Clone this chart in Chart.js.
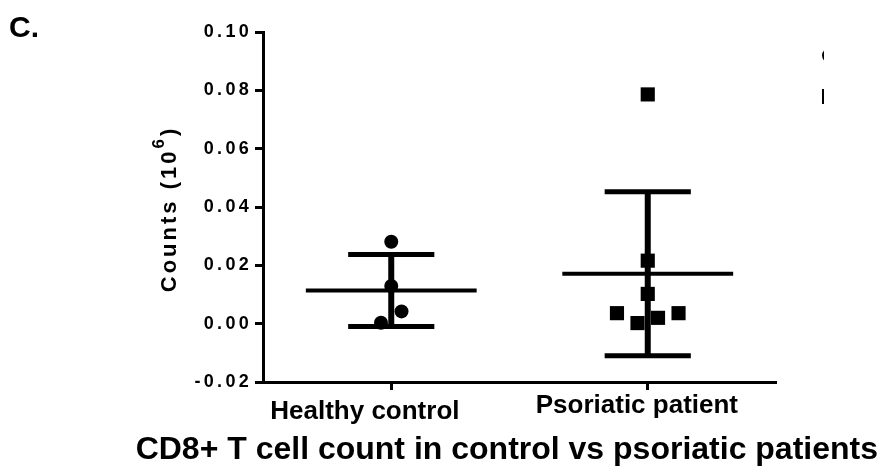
<!DOCTYPE html>
<html>
<head>
<meta charset="utf-8">
<title>CD8+ T cell count</title>
<script src="https://cdn.jsdelivr.net/npm/chart.js@4/dist/chart.umd.min.js"></script>
<style>
  html, body { margin: 0; padding: 0; background: #fff; overflow: hidden; }
  canvas { display: block; }
</style>
</head>
<body>
<canvas id="chart" width="884" height="475"></canvas>
<script>
// Groups on the x axis
const categories = ['Healthy control', 'Psoriatic patient'];

// CD8+ T cell counts (10^6) per subject
const healthyCounts   = [0.0281, 0.0129, 0.0042, 0.0003];
const psoriaticCounts = [0.0786, 0.0216, 0.0102, 0.0036, 0.0036, 0.0002, 0.0020];

// Horizontal spread of overlapping subjects, in category units
const healthySpread   = [0, 0, 0.04, -0.04];
const psoriaticSpread = [0, 0, 0, -0.12, 0.12, -0.04, 0.04];

// Y axis tick values
const yTickValues = [-0.02, 0.00, 0.02, 0.04, 0.06, 0.08, 0.10];

const FONT = "'Liberation Sans', Arial, Helvetica, sans-serif";
const INK = '#000000';

function meanSd(values) {
  const n = values.length;
  const mean = values.reduce((a, b) => a + b, 0) / n;
  const sd = Math.sqrt(values.reduce((a, v) => a + (v - mean) * (v - mean), 0) / (n - 1));
  return { mean, sd };
}

const groups = [
  { counts: healthyCounts,   spread: healthySpread,   style: 'circle', radius: 7 },
  { counts: psoriaticCounts, spread: psoriaticSpread, style: 'rect',   radius: 10 }
];

const MEAN_HALF = 0.333;   // half length of the mean bar
const CAP_HALF = 0.168;    // half length of the SD caps

function segment(points, width) {
  return {
    data: points,
    showLine: true,
    borderColor: INK,
    borderWidth: width,
    pointRadius: 0,
    pointHoverRadius: 0,
    borderCapStyle: 'butt'
  };
}

// Mean bar and mean +/- SD whiskers for each group, then the subjects
const datasets = [];
groups.forEach((g, i) => {
  const c = i + 1;
  const { mean, sd } = meanSd(g.counts);
  datasets.push(segment([{ x: c - MEAN_HALF, y: mean }, { x: c + MEAN_HALF, y: mean }], 4));
  datasets.push(segment([{ x: c, y: mean - sd }, { x: c, y: mean + sd }], 6));
  datasets.push(segment([{ x: c - CAP_HALF, y: mean + sd }, { x: c + CAP_HALF, y: mean + sd }], 5));
  datasets.push(segment([{ x: c - CAP_HALF, y: mean - sd }, { x: c + CAP_HALF, y: mean - sd }], 5));
});
groups.forEach((g, i) => {
  datasets.push({
    label: categories[i],
    data: g.counts.map((v, k) => ({ x: i + 1 + g.spread[k], y: v })),
    showLine: false,
    pointStyle: g.style,
    pointRadius: g.radius,
    pointHoverRadius: g.radius,
    pointBackgroundColor: INK,
    pointBorderWidth: 0,
    borderWidth: 0
  });
});

// Letter-spaced y axis tick labels
const spacedYAxis = {
  id: 'spacedYAxis',
  beforeDraw(chart) {
    const s = chart.scales.y;
    if (!s || s._spaced) return;
    s._spaced = true;
    const orig = s.drawLabels;
    s.drawLabels = function (...args) {
      const ctx = this.ctx;
      const prev = ctx.letterSpacing;
      ctx.letterSpacing = '3.3px';
      orig.apply(this, args);
      ctx.letterSpacing = prev;
    };
  }
};

// Rotated y axis title with a raised exponent
const yAxisTitle = {
  id: 'yAxisTitle',
  afterDraw(chart, args, opts) {
    const { ctx, chartArea } = chart;
    const cy = (chartArea.top + chartArea.bottom) / 2 + opts.shift;
    const main = 'bold 22px ' + FONT;
    const sup = 'bold 17px ' + FONT;
    ctx.save();
    ctx.translate(opts.baselineX, cy);
    ctx.rotate(-Math.PI / 2);
    ctx.fillStyle = INK;
    ctx.letterSpacing = opts.spacing;
    ctx.textAlign = 'left';
    ctx.textBaseline = 'alphabetic';
    ctx.font = main;
    const w1 = ctx.measureText(opts.base).width;
    const w3 = ctx.measureText(opts.close).width;
    ctx.font = sup;
    const w2 = ctx.measureText(opts.power).width;
    let u = -(w1 + w2 + w3) / 2;
    ctx.font = main;
    ctx.fillText(opts.base, u, 0);
    u += w1;
    ctx.font = sup;
    ctx.fillText(opts.power, u, -opts.rise);
    u += w2;
    ctx.font = main;
    ctx.fillText(opts.close, u, 0);
    ctx.restore();
  }
};

// Group names under the x axis, each set at its own offset from its tick
const groupLabels = {
  id: 'groupLabels',
  afterDraw(chart, args, opts) {
    const { ctx } = chart;
    const x = chart.scales.x;
    ctx.save();
    ctx.fillStyle = INK;
    ctx.font = 'bold 26px ' + FONT;
    ctx.textAlign = 'left';
    ctx.textBaseline = 'middle';
    categories.forEach((name, i) => {
      ctx.fillText(name, x.getPixelForValue(i + 1) + opts.dx[i], x.top + opts.dy[i]);
    });
    ctx.restore();
  }
};

// Panel letter in the top-left corner
const panelLabel = {
  id: 'panelLabel',
  afterDraw(chart, args, opts) {
    const ctx = chart.ctx;
    ctx.save();
    ctx.fillStyle = INK;
    ctx.font = 'bold 30px ' + FONT;
    ctx.textAlign = 'left';
    ctx.textBaseline = 'alphabetic';
    ctx.fillText(opts.text, 9, 37);
    ctx.restore();
  }
};

// Key markers, cut off at the right edge of the figure
const keyStub = {
  id: 'keyStub',
  afterDraw(chart) {
    const { ctx, chartArea } = chart;
    const left = chartArea.right + 46;
    ctx.save();
    ctx.beginPath();
    ctx.rect(left, chartArea.top, 2, chartArea.bottom - chartArea.top);
    ctx.clip();
    ctx.fillStyle = INK;
    groups.forEach((g, i) => {
      const cy = chartArea.top + 23.5 + i * 41;
      ctx.beginPath();
      if (g.style === 'circle') {
        ctx.arc(left + 7, cy, 7, 0, Math.PI * 2);
      } else {
        ctx.rect(left, cy - 7.5, 15, 15);
      }
      ctx.fill();
    });
    ctx.restore();
  }
};

new Chart(document.getElementById('chart'), {
  type: 'scatter',
  data: { datasets },
  plugins: [spacedYAxis, yAxisTitle, groupLabels, panelLabel, keyStub],
  options: {
    responsive: false,
    animation: false,
    events: [],
    layout: { padding: { top: 32, left: 0, right: 6, bottom: 0 } },
    plugins: {
      legend: { display: false },
      tooltip: { enabled: false },
      panelLabel: { text: 'C.' },
      groupLabels: { dx: [-121, -112], dy: [30, 24] },
      yAxisTitle: { base: 'Counts (10', power: '6', close: ')', baselineX: 176, shift: 2, rise: 12, spacing: '3px' },
      title: {
        display: true,
        position: 'bottom',
        align: 'end',
        text: 'CD8+ T cell count in control vs psoriatic patients',
        color: INK,
        font: { family: FONT, size: 32, weight: 'bold', lineHeight: 1 },
        padding: { top: 4, bottom: 9 }
      }
    },
    scales: {
      x: {
        type: 'linear',
        min: 0.5,
        max: 2.5,
        bounds: 'data',
        afterBuildTicks: s => { s.ticks = categories.map((c, i) => ({ value: i + 1 })); },
        afterFit: s => { s.height = 48; },
        border: { display: true, color: INK, width: 3 },
        grid: { display: true, drawOnChartArea: false, drawTicks: true, tickLength: 8, tickWidth: 3, tickColor: INK },
        ticks: { display: false }
      },
      y: {
        type: 'linear',
        min: -0.02,
        max: 0.10,
        bounds: 'data',
        afterBuildTicks: s => { s.ticks = yTickValues.map(v => ({ value: v })); },
        afterFit: s => { s.width = 263; },
        border: { display: true, color: INK, width: 3 },
        grid: { display: true, drawOnChartArea: false, drawTicks: true, tickLength: 8, tickWidth: 3, tickColor: INK },
        ticks: {
          padding: 3,
          color: INK,
          font: { family: FONT, size: 18, weight: 'bold' },
          callback: v => Number(v).toFixed(2)
        },
        title: { display: false }
      },
      side: {
        type: 'linear',
        position: 'right',
        display: true,
        afterFit: s => { s.width = 102; },
        border: { display: false },
        grid: { display: false },
        ticks: { display: false }
      }
    }
  }
});
</script>
</body>
</html>
